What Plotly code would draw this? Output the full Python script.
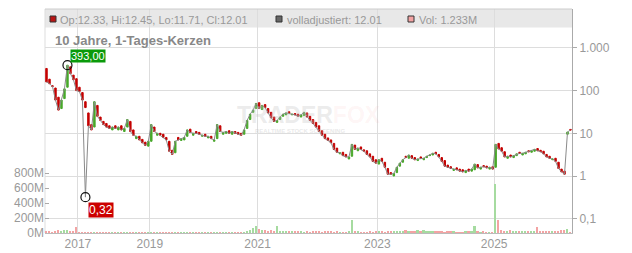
import math
import pandas as pd
import plotly.graph_objects as go

# ---------------- data ----------------
# sampling spans (the original chart is trading-day indexed, so years have different widths)
span_2016 = ("2016-06-01", "2016-12-20")
span_2017_18 = ("2017-01-03", "2018-12-14")
span_2019_20 = ("2019-01-02", "2020-12-18")
span_2021_22 = ("2021-01-04", "2022-12-16")
span_2023_24 = ("2023-01-02", "2024-12-16")
span_2025_26 = ("2025-01-02", "2026-04-10")

close_2016 = [160, 145, 125, 60, 35, 60, 110, 393, 250, 180, 100]
open_2016 = [330, 185, 130, 115, 70, 38, 65, 120, 360, 230, 190]

close_2017_18 = [95, 60, 40, 15, 12, 55, 25, 20, 16, 14, 13, 14, 13, 14, 12, 13,
                 21, 11, 9, 8.5, 7, 6, 5.2, 6.5]
open_2017_18 = [120, 90, 55, 30, 16, 14, 45, 24, 19, 17, 15, 12, 15, 12, 15, 11,
                14, 19, 12, 7.5, 8.5, 7.2, 6.2, 5]

close_2019_20 = [16, 11, 10, 9, 8, 7, 3.8, 3.2, 6.5, 7, 7.5, 8, 12, 10.5, 10, 10,
                 9.5, 9, 8.5, 8.5, 7.5, 7, 16, 11, 10.5, 11, 10, 11, 10, 9.5,
                 9, 12, 20, 28, 35, 50]
open_2019_20 = [6.5, 14, 9, 10, 9.5, 8, 6.5, 4, 3.5, 8, 6.8, 7, 8.5, 12.5, 9, 11,
                10.5, 8.5, 9.5, 7.8, 8.5, 6.5, 7.5, 15, 9.5, 10, 11.5, 9.5, 11, 10.5,
                10, 9.5, 13, 21, 31, 38]

close_2021_22 = [38, 45, 40, 30, 23, 19, 20, 24, 28, 30, 29, 28, 27, 25, 27, 31,
                 24, 20, 17, 14, 11, 9, 7.5, 6.8, 6, 4.2, 3.6, 3.5, 3, 2.8,
                 2.8, 5.5, 4.2, 4.5, 4.2, 3.8, 3.2, 2.8, 2.2, 2.0]
open_2021_22 = [52, 36, 47, 38, 31, 24, 18, 21, 25, 27, 32, 27, 29, 28, 24, 26,
                30, 25, 21, 18, 15, 11.5, 9.5, 7.8, 7, 5.8, 4.5, 3.3, 3.6, 3.2,
                2.5, 2.9, 5.3, 3.9, 4.8, 4.1, 3.9, 3.3, 2.9, 2.4]

close_2023_24 = [2.4, 2.2, 1.6, 1.1, 1.1, 1.15, 1.6, 2.0, 2.4, 2.7, 3.1, 2.6, 2.4,
                 2.5, 2.6, 2.6, 2.9, 3.1, 3.4, 3.3, 2.8, 2.2, 1.7, 1.6, 1.5, 1.45,
                 1.4, 1.3, 1.25, 1.35, 1.3, 1.45, 1.9, 1.55, 1.6, 1.65, 1.55, 1.6, 1.45]
open_2023_24 = [1.9, 2.6, 2.1, 1.5, 1.2, 1.0, 1.2, 1.7, 2.1, 2.9, 2.6, 3.0, 2.7,
                2.3, 2.8, 2.4, 2.7, 3.0, 3.1, 3.6, 3.2, 2.7, 2.3, 1.8, 1.65, 1.35,
                1.55, 1.45, 1.4, 1.2, 1.45, 1.3, 1.4, 1.85, 1.45, 1.75, 1.7, 1.45, 1.65]

close_2025_26 = [5.5, 4.3, 3.8, 2.8, 2.9, 2.8, 3.0, 3.3, 3.4, 3.4, 3.6, 3.7, 3.9,
                 4.2, 3.9, 3.7, 3.3, 2.8, 2.6, 2.5, 2.2, 1.5, 1.25, 1.1, 10.7, 12.01]
open_2025_26 = [1.6, 5.8, 4.6, 3.7, 2.6, 3.1, 2.7, 3.0, 3.6, 3.1, 3.3, 3.9, 3.6,
                3.8, 4.4, 4.0, 3.8, 3.2, 2.9, 2.4, 2.6, 2.1, 1.45, 1.3, 9.5, 12.33]

vol_2016 = [18, 25, 12, 30, 35, 20, 40, 45, 22, 18, 75]
vol_2017_18 = [12, 6, 4, 3, 2, 2, 1, 1, 1, 1, 1, 1, 1, 1, 1, 1, 1, 1, 1, 1, 1, 1, 1, 1]
vol_2019_20 = [1, 1, 1, 1, 1, 1, 1, 1, 1, 1, 1, 1, 1, 1, 1, 1, 1, 1, 1, 1,
               1, 1, 2, 1, 1, 1, 2, 2, 3, 4, 6, 12, 25, 45, 70, 90]
vol_2021_22 = [60, 40, 35, 30, 45, 30, 100, 25, 30, 20, 25, 15, 20, 15, 15, 12, 15,
               12, 15, 20, 15, 12, 15, 18, 15, 12, 15, 12, 10, 12, 15, 180, 25, 15,
               12, 10, 12, 15, 12, 15]
vol_2023_24 = [20, 15, 12, 25, 15, 20, 30, 25, 20, 45, 30, 25, 20, 35, 30, 40, 25,
               20, 30, 25, 20, 15, 12, 15, 20, 15, 12, 10, 12, 15, 20, 15, 100, 15,
               12, 15, 12, 10, 12]
vol_2025_26 = [660, 170, 40, 30, 25, 35, 20, 25, 30, 20, 25, 30, 20, 15, 75, 20,
               15, 25, 20, 30, 25, 20, 35, 40, 50, 1.233]

last_high = 12.45
last_low = 11.71
adj_last = 12.01
dip_low = 0.32          # lowest adjusted close
dip_sample = 13         # sample where the adjusted series dips
year_labels = ["2017", "2019", "2021", "2023", "2025"]
price_ticks = [0.1, 1, 10, 100, 1000]
price_ticktext = ["0,1", "1", "10", "100", "1.000"]
vol_ticks = [0, 200, 400, 600, 800]
vol_ticktext = ["0M", "200M", "400M", "600M", "800M"]

# ---------------- build ----------------
spans = [span_2016, span_2017_18, span_2019_20, span_2021_22, span_2023_24, span_2025_26]
close_segs = [close_2016, close_2017_18, close_2019_20, close_2021_22, close_2023_24, close_2025_26]
open_segs = [open_2016, open_2017_18, open_2019_20, open_2021_22, open_2023_24, open_2025_26]
vol_segs = [vol_2016, vol_2017_18, vol_2019_20, vol_2021_22, vol_2023_24, vol_2025_26]

dates = []
for (s, e), seg in zip(spans, close_segs):
    dates += list(pd.date_range(s, e, periods=len(seg)))
close = [c for seg in close_segs for c in seg]
opens = [o for seg in open_segs for o in seg]
volume = [v for seg in vol_segs for v in seg]
n = len(close)
idx = list(range(n))

highs = [max(o, c) for o, c in zip(opens, close)]
lows = [min(o, c) for o, c in zip(opens, close)]
highs[-1] = last_high
lows[-1] = last_low

adj = list(close)
adj[dip_sample] = dip_low

GREEN = "#48a82a"
RED = "#c40000"
VOL_UP = "#a6dba0"
VOL_DN = "#f3a3a3"
vol_colors = [VOL_UP if c >= o else VOL_DN for o, c in zip(opens, close)]

peak_i = close.index(max(close))
peak_v = max(close)

tickvals = []
for y in year_labels:
    first = next(i for i, d in enumerate(dates) if d.year == int(y))
    tickvals.append(first - 0.5)


def de(v):
    return f"{v:.2f}".replace(".", ",")


fig = go.Figure()

fig.add_trace(go.Scatter(x=idx, y=adj, mode="lines", line=dict(color="#8a8a8a", width=1),
                         hoverinfo="skip", showlegend=False))
fig.add_trace(go.Candlestick(x=idx, open=opens, high=highs, low=lows, close=close,
                             increasing=dict(line=dict(color=GREEN, width=1), fillcolor=GREEN),
                             decreasing=dict(line=dict(color=RED, width=1), fillcolor=RED),
                             whiskerwidth=0, showlegend=False,
                             text=[d.strftime("%d.%m.%Y") for d in dates]))
fig.add_trace(go.Scatter(x=[peak_i, dip_sample], y=[peak_v, dip_low], mode="markers",
                         marker=dict(symbol="circle-open", size=9, color="#111",
                                     line=dict(width=1.2, color="#111")),
                         hoverinfo="skip", showlegend=False))
fig.add_trace(go.Bar(x=idx, y=volume, marker=dict(color=vol_colors, line=dict(width=0)),
                     width=0.55, yaxis="y2", showlegend=False))

L, R, T, B = 45, 60, 9, 20
W, H = 632, 253
PW, PH = W - L - R, H - T - B


def px(x):
    return (x - L) / PW


def py(y):
    return (H - B - y) / PH


FONT = "Arial, Liberation Sans, sans-serif"
GRAY = "#999999"

shapes = [
    dict(type="rect", xref="paper", yref="paper", x0=0, x1=1, y0=py(27.5), y1=1,
         fillcolor="#e8e8e8", line=dict(width=0), layer="below"),
    dict(type="line", xref="paper", yref="paper", x0=0, x1=1, y0=1, y1=1,
         line=dict(color="#cccccc", width=1)),
    dict(type="line", xref="paper", yref="paper", x0=0, x1=0, y0=0, y1=1,
         line=dict(color="#dddddd", width=1), layer="below"),
    dict(type="rect", xref="paper", yref="paper", x0=px(50), x1=px(56), y0=py(22), y1=py(16),
         fillcolor="#b81414", line=dict(color="#333", width=1)),
    dict(type="rect", xref="paper", yref="paper", x0=px(276), x1=px(282), y0=py(22), y1=py(16),
         fillcolor="#666666", line=dict(color="#333", width=1)),
    dict(type="rect", xref="paper", yref="paper", x0=px(408), x1=px(414), y0=py(22), y1=py(16),
         fillcolor=VOL_DN, line=dict(color="#333", width=1)),
]

annotations = [
    dict(xref="paper", yref="paper", x=px(58), y=py(19.5), xanchor="left", yanchor="middle",
         showarrow=False, font=dict(family=FONT, size=11, color=GRAY),
         text=f"Op:{opens[-1]:.2f}, Hi:{highs[-1]:.2f}, Lo:{lows[-1]:.2f}, Cl:{close[-1]:.2f}"),
    dict(xref="paper", yref="paper", x=px(285), y=py(19.5), xanchor="left", yanchor="middle",
         showarrow=False, font=dict(family=FONT, size=11, color=GRAY),
         text=f"volladjustiert: {adj_last:.2f}"),
    dict(xref="paper", yref="paper", x=px(417), y=py(19.5), xanchor="left", yanchor="middle",
         showarrow=False, font=dict(family=FONT, size=11, color=GRAY),
         text=f"Vol: {volume[-1]:.3f}M"),
    dict(xref="paper", yref="paper", x=px(53), y=py(40.5), xanchor="left", yanchor="middle",
         showarrow=False, font=dict(family=FONT, size=13, color="#888888"),
         text="<b>10 Jahre, 1-Tages-Kerzen</b>"),
    dict(xref="paper", yref="paper", x=px(309), y=py(115), xanchor="center", yanchor="middle",
         showarrow=False, font=dict(family=FONT, size=23, color="rgba(190,190,190,0.30)"),
         text="<b>TRADER<span style='color:rgba(240,120,120,0.25)'>FOX</span></b>"),
    dict(xref="paper", yref="paper", x=px(300), y=py(131), xanchor="center", yanchor="middle",
         showarrow=False, font=dict(family=FONT, size=6, color="rgba(190,190,190,0.35)"),
         text="<b>REALTIME STOCK SCREENING</b>"),
    dict(x=peak_i, y=math.log10(peak_v), xref="x", yref="y", xanchor="left", yanchor="bottom",
         xshift=3, yshift=2, showarrow=False, bgcolor="#0a9a0a", borderpad=0,
         font=dict(family=FONT, size=11, color="white"), text=de(peak_v)),
    dict(x=dip_sample, y=math.log10(dip_low), xref="x", yref="y", xanchor="left", yanchor="top",
         xshift=3, yshift=-5, showarrow=False, bgcolor="#cc0000", borderpad=0,
         font=dict(family=FONT, size=12, color="white"), text=de(dip_low)),
]

ymin = (176 - (H - B)) / 42.7
ymax = (176 - T) / 42.7
vmax = PH / 60 * 800

fig.update_layout(
    width=W, height=H, margin=dict(l=L, r=R, t=T, b=B, autoexpand=False),
    paper_bgcolor="white", plot_bgcolor="white",
    font=dict(family=FONT, size=12, color=GRAY),
    showlegend=False, shapes=shapes, annotations=annotations,
    xaxis=dict(range=[-0.5, n - 0.5], tickvals=tickvals, ticktext=year_labels,
               showgrid=True, gridcolor="#dddddd", gridwidth=1, zeroline=False,
               showline=True, linecolor="#bbbbbb", ticks="", automargin=False,
               rangeslider=dict(visible=False),
               tickfont=dict(size=12, color=GRAY, family=FONT)),
    yaxis=dict(type="log", side="right", range=[ymin, ymax], tickvals=price_ticks,
               ticktext=price_ticktext, showgrid=True, gridcolor="#dddddd", zeroline=False,
               showline=True, linecolor="#aaaaaa", ticks="outside", ticklen=4, automargin=False,
               tickcolor="#aaaaaa", tickfont=dict(size=12, color=GRAY, family=FONT)),
    yaxis2=dict(overlaying="y", side="left", range=[0, vmax], tickvals=vol_ticks,
                ticktext=vol_ticktext, showgrid=False, zeroline=False, showline=False,
                ticks="inside", ticklen=4, tickcolor="#aaaaaa", automargin=False,
                tickfont=dict(size=12, color=GRAY, family=FONT)),
    bargap=0,
)

fig.write_html("out.html")
